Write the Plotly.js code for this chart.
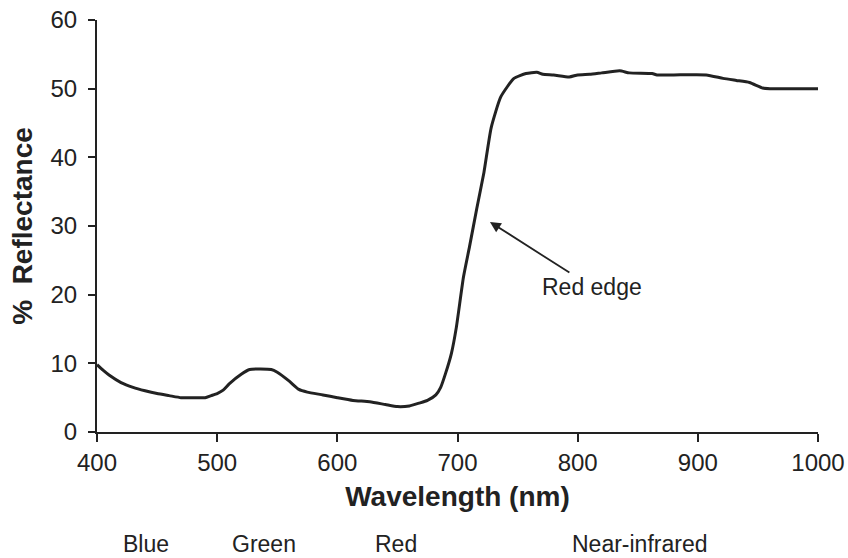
<!DOCTYPE html>
<html>
<head>
<meta charset="utf-8">
<script src="https://cdn.plot.ly/plotly-3.0.1.min.js"></script>
<style>html,body{margin:0;padding:0;background:#fff;}#chart{width:848px;height:558px;}</style>
</head>
<body>
<div id="chart"></div>
<script>
// Wavelength (nm)
const wavelength = [400,405,410,420,430,440,450,460,470,480,490,495,500,505,510,520,527,545,550,560,568,575,588,600,613,627,640,650,660,668,675,682,686,690,695,699,705,710,716,722,728,736,747,757,766,771,780,793,800,810,820,835,843,862,866,880,907,921,932,943,954,960,980,1000];
// % Reflectance
const reflectance = [9.8,9.0,8.3,7.2,6.5,6.0,5.6,5.3,5.0,5.0,5.0,5.3,5.6,6.1,7.0,8.4,9.1,9.1,8.7,7.4,6.2,5.8,5.4,5.0,4.6,4.4,4.0,3.7,3.8,4.2,4.6,5.4,6.5,8.5,11.5,15.2,22.6,27.0,32.5,37.8,44.3,48.8,51.5,52.2,52.4,52.1,52.0,51.7,52.0,52.1,52.3,52.6,52.3,52.2,52.0,52.0,52.0,51.5,51.2,50.9,50.1,50.0,50.0,50.0];
const xTicks = [400,500,600,700,800,900,1000];
const yTicks = [0,10,20,30,40,50,60];
const bandLabels = ["Blue","Green","Red","Near-infrared"];
const bandCenters = [441,539,649,852];
const edgeLabel = "Red edge";
const edgePoint = [727, 30.6];
const edgeText = [812, 21.1];

const font = "Liberation Sans, Arial, sans-serif";
const ink = "#222";

const annotations = bandLabels.map((t,i)=>({
  text: t, x: bandCenters[i], xref: 'x', y: -0.272, yref: 'paper',
  showarrow: false, font: {family: font, size: 23, color: ink}, yanchor: 'middle'
}));
annotations.push({
  text: edgeLabel, x: edgePoint[0], y: edgePoint[1], xref: 'x', yref: 'y',
  ax: edgeText[0], ay: edgeText[1], axref: 'x', ayref: 'y',
  showarrow: true, arrowhead: 2, arrowsize: 1.2, arrowwidth: 1.8, arrowcolor: ink,
  font: {family: font, size: 23, color: ink}
});

Plotly.newPlot('chart', [{
  x: wavelength, y: reflectance, type: 'scatter', mode: 'lines',
  line: {color: ink, width: 3, shape: 'spline', smoothing: 0.5}, hoverinfo: 'skip'
}], {
  width: 848, height: 558,
  margin: {l: 97, r: 30, t: 20, b: 126},
  paper_bgcolor: '#fff', plot_bgcolor: '#fff',
  showlegend: false,
  font: {family: font, color: ink},
  xaxis: {
    range: [400, 1000], tickvals: xTicks, ticktext: xTicks.map(String),
    showgrid: false, zeroline: false, showline: true, linecolor: ink, linewidth: 2,
    ticks: 'outside', ticklen: 8, tickwidth: 2, tickcolor: ink,
    tickfont: {family: font, size: 24, color: ink},
    title: {text: 'Wavelength (nm)', font: {family: font, size: 28, color: ink, weight: 'bold'}, standoff: 12}
  },
  yaxis: {
    range: [0, 60], tickvals: yTicks, ticktext: yTicks.map(String),
    showgrid: false, zeroline: false, showline: true, linecolor: ink, linewidth: 2,
    ticks: 'outside', ticklen: 7, tickwidth: 2, tickcolor: ink, ticklabelstandoff: 6,
    tickfont: {family: font, size: 24, color: ink},
    title: {text: '%  Reflectance', font: {family: font, size: 28, color: ink, weight: 'bold'}, standoff: 10}
  },
  annotations: annotations
}, {staticPlot: true});
</script>
</body>
</html>
